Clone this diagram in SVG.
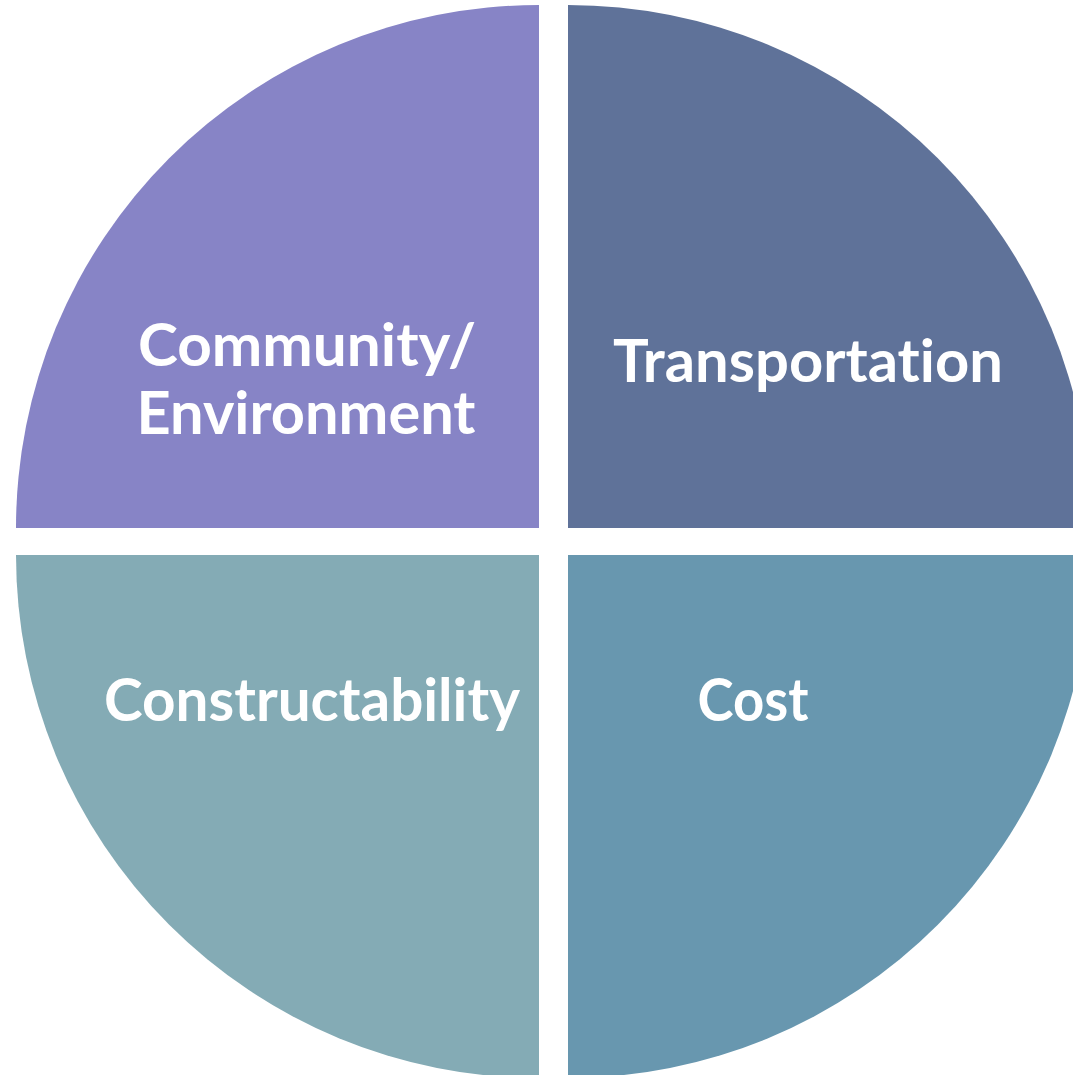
<svg xmlns="http://www.w3.org/2000/svg" width="1073" height="1075" viewBox="0 0 1073 1075">
<style>
.lbl{font-family:"Lato","Open Sans","Liberation Sans",sans-serif;font-weight:700;font-size:60px;fill:#ffffff;text-anchor:middle;font-variant-ligatures:none;font-feature-settings:"liga" 0,"clig" 0}
</style>
<rect width="1073" height="1075" fill="#ffffff"/>
<g id="community">
<path d="M539,528 L16,528 A523,523 0 0 1 539,5 Z" fill="#8784C6"/>
<text class="lbl" x="307" y="366" textLength="338" lengthAdjust="spacingAndGlyphs">Community/</text>
<text class="lbl" x="306" y="434" textLength="339" lengthAdjust="spacingAndGlyphs">Environment</text>
</g>
<g id="transportation">
<path d="M568,528 L568,5 A523,523 0 0 1 1091,528 Z" fill="#5F7299"/>
<text class="lbl" x="808" y="382" textLength="390" lengthAdjust="spacingAndGlyphs">Transportation</text>
</g>
<g id="constructability">
<path d="M539,555 L539,1078 A523,523 0 0 1 16,555 Z" fill="#84ABB5"/>
<text class="lbl" x="312" y="721" textLength="416" lengthAdjust="spacingAndGlyphs">Constructability</text>
</g>
<g id="cost">
<path d="M568,555 L1091,555 A523,523 0 0 1 568,1078 Z" fill="#6897AF"/>
<text class="lbl" x="753" y="721" textLength="111" lengthAdjust="spacingAndGlyphs">Cost</text>
</g>
<g id="connectors"></g>
</svg>
